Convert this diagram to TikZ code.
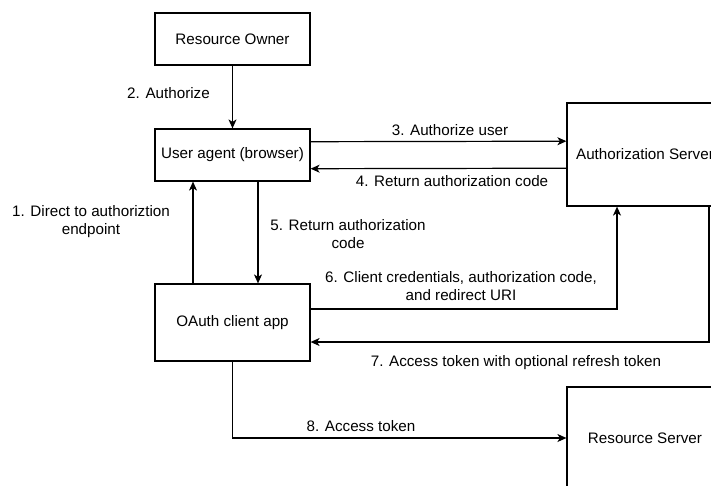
\documentclass[tikz,border=0pt]{standalone}
\usepackage{fontspec}
\setmainfont{Liberation Sans}
\usetikzlibrary{arrows.meta}
\begin{document}
\begin{tikzpicture}[x=1pt,y=-1pt,
  box/.style={draw, line width=1.2pt, minimum width=155pt, inner sep=0pt, font=\fontsize{15.2}{18.5}\selectfont},
  lbl/.style={align=center, inner sep=0pt, font=\fontsize{15.2}{18.5}\selectfont},
  flow/.style={line width=1.2pt, -{Stealth[length=9pt,width=8pt,inset=2.5pt]}}]
\useasboundingbox (0,0) rectangle (711,485);
\fill[white] (0,0) rectangle (711,485);
\clip (0,0) rectangle (711,485);

% participants
\node[box, minimum height=52pt] (ro) at (232.5,39) {Resource Owner};
\node[box, minimum height=52pt] (ua) at (232.5,155) {User agent (browser)};
\node[box, minimum height=77pt] (oa) at (232.5,322.5) {OAuth client app};
\node[box, minimum width=156pt, minimum height=103pt] (as) at (645,154.5) {Authorization Server};
\node[box, minimum width=156pt, minimum height=102pt] (rs) at (645,438) {Resource Server};

% bend points
\coordinate (b6) at (617,309);
\coordinate (b7) at (709,342);
\coordinate (b8) at (232.5,438);

% flows
\draw[flow] (ro.south) -- (ua.north);
\draw[flow] ([xshift=-39.5pt]oa.north) -- ([xshift=-39.5pt]ua.south);
\draw[flow] ([xshift=25.5pt]ua.south) -- ([xshift=25.5pt]oa.north);
\draw[flow] ([yshift=13.3pt]ua.east) -- ([yshift=13.3pt]as.west);
\draw[flow] ([yshift=-13.7pt]as.west) -- ([yshift=-13.7pt]ua.east);
\draw[flow] ([yshift=13.5pt]oa.east) -- (b6) -- ([xshift=-28pt]as.south);
\draw[flow] ([xshift=64pt]as.south) -- (b7) -- ([yshift=-19.5pt]oa.east);
\draw[flow] (oa.south) -- (b8) -- (rs.west);

% step labels
\node[lbl] (l1) at (91,221.5) {1. Direct to authoriztion\\endpoint};
\node[lbl] (l2) at (168.5,93) {2. Authorize};
\node[lbl] (l3) at (450,130) {3. Authorize user};
\node[lbl] (l4) at (452,181) {4. Return authorization code};
\node[lbl] (l5) at (348,234) {5. Return authorization\\code};
\node[lbl] (l6) at (461,286) {6. Client credentials, authorization code,\\and redirect URI};
\node[lbl] (l7) at (516,363) {7. Access token with optional refresh token};
\node[lbl] (l8) at (361,426) {8. Access token};
\end{tikzpicture}
\end{document}
